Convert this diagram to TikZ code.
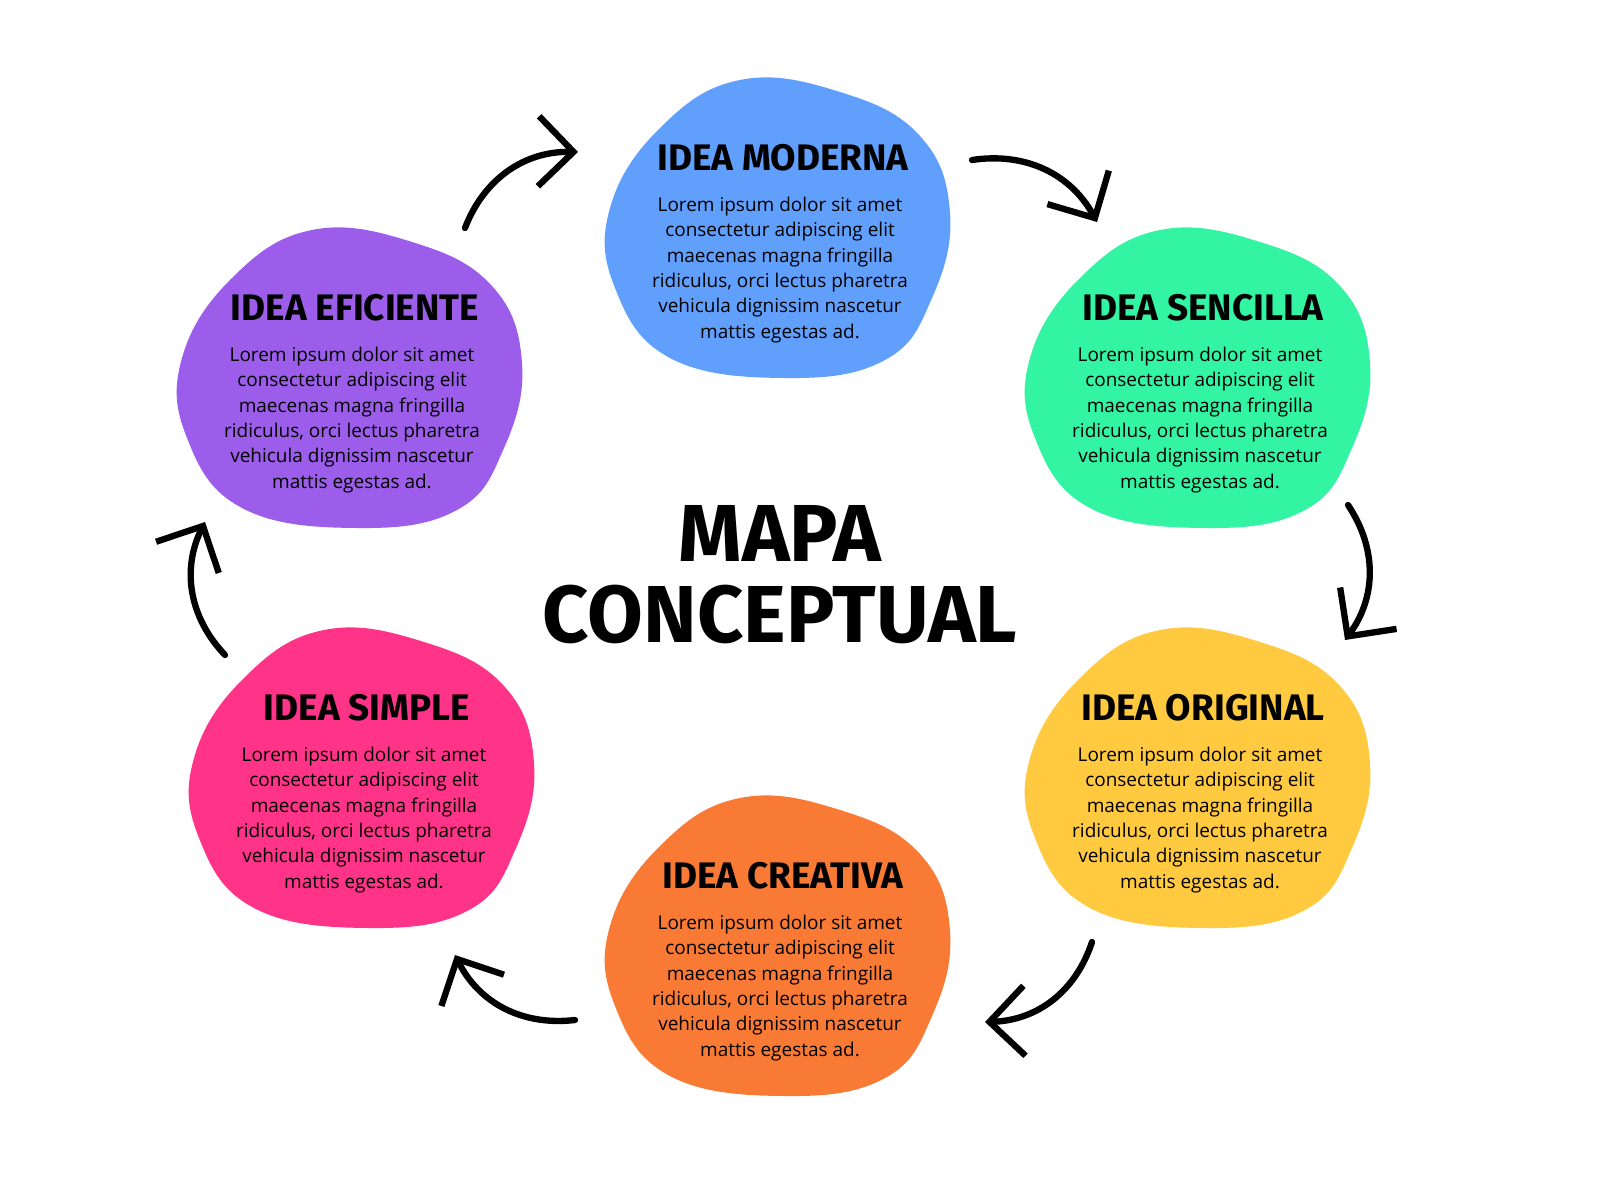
\documentclass[tikz,border=0pt]{standalone}
\usepackage{fontspec}
\setmainfont{Open Sans}
\newfontfamily\ttl{Fira Sans}
\usetikzlibrary{arrows.meta}
\definecolor{cblue}{HTML}{619FFD}
\definecolor{cgreen}{HTML}{33F4A2}
\definecolor{cpurple}{HTML}{9B5DEA}
\definecolor{cpink}{HTML}{FF3388}
\definecolor{cyellow}{HTML}{FFC940}
\definecolor{corange}{HTML}{F97A35}
\tikzset{
 blob/.style={fill=#1,draw=none},
 ttlstyle/.style={font=\ttl\bfseries\fontsize{10.5}{12}\selectfont,inner sep=0pt},
 body/.style={font=\fontsize{5.4}{7.2}\selectfont,align=center,inner sep=0pt},
 arr/.style={line width=1.8pt,line cap=round,-{Straight Barb[length=3.5mm,width=7mm,line width=1.8pt]}}
}
\newcommand{\myblob}[3]{%
 \fill[blob=#3] plot[smooth cycle,tension=0.7] coordinates{
 ({#1-0.40},{#2+1.48}) ({#1+0.60},{#2+1.36}) ({#1+1.40},{#2+0.92}) ({#1+1.70},{#2+0.15})
 ({#1+1.52},{#2-0.70}) ({#1+1.05},{#2-1.32}) ({#1+0.05},{#2-1.50}) ({#1-1.10},{#2-1.30})
 ({#1-1.65},{#2-0.60}) ({#1-1.70},{#2+0.20}) ({#1-1.20},{#2+1.00})};
}
\newcommand{\lorem}{Lorem ipsum dolor sit amet\\ consectetur adipiscing elit\\ maecenas magna fringilla\\ ridiculus, orci lectus pharetra\\ vehicula dignissim nascetur\\ mattis egestas ad.}
\begin{document}
\begin{tikzpicture}
\useasboundingbox (0,0) rectangle (16,12);
\fill[white] (0,0) rectangle (16,12);
\myblob{7.80}{9.72}{cblue}
\myblob{12.00}{8.22}{cgreen}
\myblob{3.52}{8.22}{cpurple}
\myblob{3.64}{4.22}{cpink}
\myblob{12.00}{4.22}{cyellow}
\myblob{7.80}{2.54}{corange}
\node[ttlstyle] (m1) at (7.83,10.42) {IDEA MODERNA};
\node[body] (m2) at (7.80,9.30) {\lorem};
\node[ttlstyle] (s1) at (12.03,8.92) {IDEA SENCILLA};
\node[body] (s2) at (12.00,7.80) {\lorem};
\node[ttlstyle] (e1) at (3.55,8.92) {IDEA EFICIENTE};
\node[body] (e2) at (3.52,7.80) {\lorem};
\node[ttlstyle] (i1) at (3.67,4.92) {IDEA SIMPLE};
\node[body] (i2) at (3.64,3.80) {\lorem};
\node[ttlstyle] (o1) at (12.03,4.92) {IDEA ORIGINAL};
\node[body] (o2) at (12.00,3.80) {\lorem};
\node[ttlstyle] (c1) at (7.83,3.24) {IDEA CREATIVA};
\node[body] (c2) at (7.80,2.12) {\lorem};
\node[font=\ttl\bfseries\fontsize{23}{23}\selectfont,align=center] (main) at (7.80,6.25) {MAPA\\CONCEPTUAL};
\coordinate (a1) at (4.65,9.72); \coordinate (b1) at (5.78,10.48);
\coordinate (a2) at (9.72,10.40); \coordinate (b2) at (10.97,9.78);
\coordinate (a3) at (13.48,6.95); \coordinate (b3) at (13.45,5.60);
\coordinate (a4) at (10.92,2.58); \coordinate (b4) at (9.85,1.78);
\coordinate (a5) at (5.75,1.80); \coordinate (b5) at (4.55,2.45);
\coordinate (a6) at (2.25,5.45); \coordinate (b6) at (2.05,6.78);
\draw[arr] (a1) to[bend left=35] (b1);
\draw[arr] (a2) to[bend left=35] (b2);
\draw[arr] (a3) to[bend left=35] (b3);
\draw[arr] (a4) to[bend left=35] (b4);
\draw[arr] (a5) to[bend left=35] (b5);
\draw[arr] (a6) to[bend left=35] (b6);
\end{tikzpicture}
\end{document}
